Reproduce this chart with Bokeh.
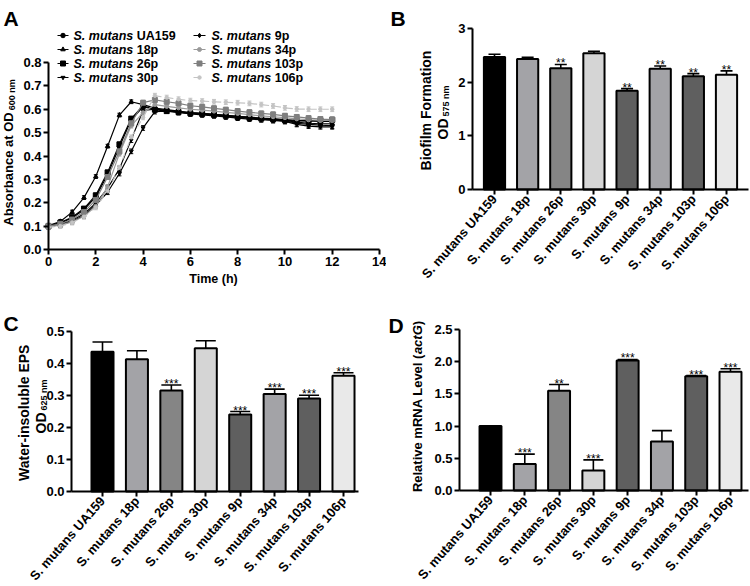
import math
from bokeh.plotting import figure
from bokeh.layouts import column, row
from bokeh.models import (ColumnDataSource, Whisker, TeeHead, Label, FixedTicker,
                          NumeralTickFormatter, Range1d)
from bokeh.core.properties import value
from bokeh.embed import file_html
from bokeh.resources import INLINE

FONT = "Liberation Sans"

# ---------------- data ----------------
strains = ["S. mutans UA159", "S. mutans 18p", "S. mutans 26p", "S. mutans 30p",
           "S. mutans 9p", "S. mutans 34p", "S. mutans 103p", "S. mutans 106p"]
bar_colors = ["#000000", "#a3a3a7", "#858585", "#d5d5d5",
              "#5f5f5f", "#a3a3a7", "#5f5f5f", "#e9e9e9"]

# Panel A: growth curves
time_h = [0, 0.5, 1, 1.5, 2, 2.5, 3, 3.5, 4, 4.5, 5, 5.5, 6, 6.5, 7, 7.5, 8,
          8.5, 9, 9.5, 10, 10.5, 11, 11.5, 12]
od_ua159 = [0.100, 0.112, 0.135, 0.170, 0.225, 0.320, 0.440, 0.555, 0.610, 0.600, 0.595, 0.590, 0.585,
            0.582, 0.578, 0.574, 0.570, 0.566, 0.562, 0.560, 0.556, 0.552, 0.550, 0.548, 0.548]
od_18p = [0.102, 0.120, 0.160, 0.222, 0.312, 0.442, 0.575, 0.632, 0.620, 0.605, 0.598, 0.592, 0.586,
          0.582, 0.578, 0.574, 0.570, 0.565, 0.560, 0.556, 0.552, 0.545, 0.540, 0.538, 0.538]
od_26p = [0.100, 0.115, 0.138, 0.175, 0.232, 0.330, 0.450, 0.560, 0.615, 0.598, 0.592, 0.588, 0.583,
          0.580, 0.576, 0.572, 0.567, 0.563, 0.560, 0.557, 0.553, 0.550, 0.550, 0.552, 0.555]
od_30p = [0.098, 0.106, 0.120, 0.145, 0.190, 0.245, 0.325, 0.420, 0.520, 0.590, 0.592, 0.586, 0.580,
          0.576, 0.572, 0.567, 0.562, 0.558, 0.555, 0.552, 0.548, 0.535, 0.528, 0.525, 0.525]
od_9p = [0.100, 0.108, 0.125, 0.152, 0.198, 0.262, 0.345, 0.470, 0.595, 0.600, 0.594, 0.588, 0.582,
         0.579, 0.575, 0.571, 0.566, 0.562, 0.558, 0.554, 0.550, 0.540, 0.535, 0.532, 0.530]
od_34p = [0.098, 0.104, 0.118, 0.142, 0.185, 0.268, 0.410, 0.530, 0.585, 0.620, 0.612, 0.606, 0.600,
          0.596, 0.592, 0.587, 0.582, 0.577, 0.572, 0.568, 0.564, 0.559, 0.555, 0.552, 0.552]
od_103p = [0.100, 0.110, 0.128, 0.160, 0.212, 0.310, 0.420, 0.540, 0.628, 0.640, 0.632, 0.625, 0.615,
           0.610, 0.604, 0.598, 0.592, 0.587, 0.582, 0.578, 0.572, 0.567, 0.562, 0.558, 0.556]
od_106p = [0.095, 0.100, 0.115, 0.140, 0.180, 0.250, 0.350, 0.480, 0.565, 0.658, 0.650, 0.643, 0.637,
           0.635, 0.632, 0.630, 0.628, 0.625, 0.620, 0.614, 0.606, 0.601, 0.600, 0.600, 0.600]
od_sd = [0.010, 0.008, 0.008, 0.010, 0.012, 0.010, 0.010, 0.010]
a_xticks = [0, 2, 4, 6, 8, 10, 12, 14]
a_yticks = [0.0, 0.1, 0.2, 0.3, 0.4, 0.5, 0.6, 0.7, 0.8]

# Panel B: biofilm formation
biofilm = [2.47, 2.43, 2.26, 2.54, 1.84, 2.25, 2.11, 2.14]
biofilm_sd = [0.05, 0.035, 0.07, 0.035, 0.04, 0.05, 0.05, 0.07]
biofilm_sig = ["", "", "**", "", "**", "**", "**", "**"]
b_yticks = [0, 1, 2, 3]

# Panel C: water-insoluble EPS
eps = [0.437, 0.413, 0.316, 0.448, 0.241, 0.305, 0.291, 0.362]
eps_sd = [0.030, 0.027, 0.017, 0.023, 0.009, 0.015, 0.010, 0.009]
eps_sig = ["", "", "***", "", "***", "***", "***", "***"]
c_yticks = [0.0, 0.1, 0.2, 0.3, 0.4, 0.5]

# Panel D: relative mRNA level (actG)
mrna = [1.00, 0.41, 1.55, 0.31, 2.02, 0.76, 1.775, 1.845]
mrna_sd = [0.0, 0.155, 0.095, 0.165, 0.015, 0.17, 0.01, 0.045]
mrna_sig = ["", "***", "**", "***", "***", "", "***", "***"]
d_yticks = [0.0, 0.5, 1.0, 1.5, 2.0, 2.5]

# ---------------- helpers ----------------
ADV = {' ': 278, '(': 333, ')': 333, '-': 333, '.': 278, 'A': 722, 'B': 722, 'C': 722,
       'D': 722, 'E': 667, 'F': 611, 'G': 778, 'L': 611, 'N': 722, 'O': 778, 'P': 667,
       'R': 722, 'S': 667, 'U': 722, 'W': 944, 'a': 556, 'b': 611, 'c': 556, 'e': 556,
       'f': 333, 'i': 278, 'l': 278, 'm': 889, 'n': 611, 'o': 611, 'r': 389, 's': 556,
       't': 333, 'u': 611, 'v': 556, 'p': 611}


def tw(s, size):
    return sum(ADV.get(c, 556) for c in s) * size / 1000.0


class Panel:
    """figure whose frame fills the canvas; ranges chosen so data land on given pixels"""

    def __init__(self, w, h, xd0, xp0, xd1, xp1, yd0, yp0, yd1, yp1):
        self.w, self.h = w, h
        self.sx = (xd1 - xd0) / (xp1 - xp0)
        self.x0 = xd0 - xp0 * self.sx
        self.sy = (yd1 - yd0) / ((h - yp1) - (h - yp0))
        self.y0 = yd0 - (h - yp0) * self.sy
        p = figure(width=w, height=h, output_backend="svg", toolbar_location=None,
                   x_range=Range1d(self.x0, self.x0 + w * self.sx),
                   y_range=Range1d(self.y0, self.y0 + h * self.sy),
                   min_border=0, min_border_left=0, min_border_right=0,
                   min_border_top=0, min_border_bottom=0)
        p.title.visible = False
        p.outline_line_color = None
        p.grid.visible = False
        p.background_fill_color = "white"
        p.border_fill_color = "white"
        self.p = p

    def xd(self, px):
        return self.x0 + px * self.sx

    def yd(self, py):
        return self.y0 + (self.h - py) * self.sy

    def label(self, text, x, y, size, style="bold", angle=0.0, align="left",
              baseline="middle"):
        self.p.add_layout(Label(x=x, y=self.h - y, x_units="screen", y_units="screen",
                                text=text, angle=angle, text_font=FONT,
                                text_font_style=style, text_font_size=f"{size}px",
                                text_align=align, text_baseline=baseline,
                                text_color="black"))

    def vlabel(self, parts, x, yc, gap=2):
        total = sum(tw(t, s) for t, s, st, dx in parts) + gap * (len(parts) - 1)
        y = yc + total / 2
        for t, s, st, dx in parts:
            self.label(t, x + dx, y, s, style=st, angle=math.pi / 2)
            y -= tw(t, s) + gap

    def axes(self, yaxis_px, xaxis_end_px, ymax, tick_size="13px"):
        p = self.p
        p.yaxis.fixed_location = self.xd(yaxis_px)
        p.xaxis.fixed_location = 0
        p.yaxis.bounds = (0, ymax)
        p.xaxis.bounds = (self.xd(yaxis_px), self.xd(xaxis_end_px))
        for ax in p.axis:
            ax.axis_line_width = 2
            ax.axis_line_color = "black"
            ax.major_tick_line_width = 2
            ax.major_tick_line_color = "black"
            ax.major_tick_out = 5
            ax.major_tick_in = 0
            ax.minor_tick_line_color = None
            ax.major_label_text_font = FONT
            ax.major_label_text_font_style = "bold"
            ax.major_label_text_font_size = tick_size
            ax.major_label_text_color = "black"
            ax.major_label_standoff = 2


# ---------------- Panel A ----------------
WL, WR, HT, HB = 386, 364, 293, 293
A = Panel(WL, HT, 0, 48, 14, 379, 0, 249, 0.8, 62)
pA = A.p
A.axes(48, 379, 0.8)
pA.xaxis.ticker = FixedTicker(ticks=a_xticks)
pA.yaxis.ticker = FixedTicker(ticks=a_yticks)
pA.yaxis.formatter = NumeralTickFormatter(format="0.0")

series = [
    ("UA159", od_ua159, "circle", "#000000", "solid", 4.5),
    ("18p", od_18p, "triangle", "#000000", "solid", 4.5),
    ("26p", od_26p, "square", "#000000", "solid", 5),
    ("30p", od_30p, "inverted_triangle", "#000000", "solid", 4),
    ("9p", od_9p, "diamond", "#000000", "solid", 4.5),
    ("34p", od_34p, "circle", "#9a9a9a", "solid", 4),
    ("103p", od_103p, "square", "#7f7f7f", "solid", 5),
    ("106p", od_106p, "circle", "#c4c4c4", "dashed", 3.5),
]
for i, (name, ys, mk, col, dash, sz) in enumerate(series):
    src = ColumnDataSource(dict(t=time_h, v=ys, up=[y + od_sd[i] for y in ys],
                                lo=[y - od_sd[i] for y in ys]))
    pA.add_layout(Whisker(source=src, base="t", upper="up", lower="lo",
                          line_color=col, line_width=1,
                          upper_head=TeeHead(size=4, line_color=col, line_width=1),
                          lower_head=TeeHead(size=4, line_color=col, line_width=1)))
    pA.line("t", "v", source=src, line_color=col, line_width=1.2, line_dash=dash)
    pA.scatter("t", "v", source=src, marker=mk, size=sz, fill_color=col, line_color=col)

# legend (two columns, 4 rows)
leg_rows_px = [35, 49, 63, 77]
leg_cols_px = [(57, 68, 73), (193, 205, 211)]
for i, (name, ys, mk, col, dash, sz) in enumerate(series):
    c = leg_cols_px[i // 4]
    yv = A.yd(leg_rows_px[i % 4])
    x0, x1, xt = A.xd(c[0]), A.xd(c[1]), A.xd(c[2])
    pA.line([x0, x1], [yv, yv], line_color=col, line_width=1.2, line_dash=dash)
    pA.scatter([(x0 + x1) / 2], [yv], marker=mk, size=sz, fill_color=col, line_color=col)
    pA.text([xt], [yv], text=["S. mutans"], text_font=value(FONT),
            text_font_style="bold italic", text_font_size=value("12.5px"),
            text_baseline="middle", text_align="left", text_color="black")
    pA.text([xt], [yv], text=[name], text_font=value(FONT),
            text_font_style="bold", text_font_size=value("12.5px"),
            text_baseline="middle", text_align="left", text_color="black",
            x_offset=tw("S. mutans ", 12.5))

A.label("A", 3, 18, 21, baseline="alphabetic")
A.label("Time (h)", 213, 278, 12.5, align="center")
A.vlabel([("Absorbance at OD", 13, "bold", 0), ("600 nm", 9, "bold", 3)], 8, 152)


# ---------------- bar panels ----------------
def bar_panel(P, axis_px, end_px, ymax, yticks, fmt, vals, sds, sig, cap):
    p = P.p
    P.axes(axis_px, end_px, ymax)
    xs = list(range(len(strains)))
    p.xaxis.ticker = FixedTicker(ticks=xs)
    p.xaxis.major_label_overrides = {i: s for i, s in enumerate(strains)}
    p.xaxis.major_label_orientation = 0.85
    p.xaxis.major_label_text_font_size = "13px"
    p.yaxis.ticker = FixedTicker(ticks=yticks)
    p.yaxis.formatter = NumeralTickFormatter(format=fmt)
    src = ColumnDataSource(dict(x=xs, v=vals, c=bar_colors,
                                up=[v + s for v, s in zip(vals, sds)],
                                lo=[v - s for v, s in zip(vals, sds)], sig=sig))
    p.vbar(x="x", top="v", bottom=0, width=0.64, source=src, fill_color="c",
           line_color="black", line_width=2)
    p.add_layout(Whisker(source=src, base="x", upper="up", lower="lo",
                         line_color="black", line_width=1.6,
                         upper_head=TeeHead(size=cap, line_color="black", line_width=1.6),
                         lower_head=TeeHead(size=cap, line_color="black", line_width=1.6)))
    p.text(x="x", y="up", text="sig", source=src, text_font=value(FONT),
           text_font_size=value("12px"), text_align="center",
           text_baseline="alphabetic", y_offset=-1, text_color="black")
    return p


# Panel B  (page origin 386, 0)
B = Panel(WR, HT, 0, 494 - 386, 7, 726 - 386, 0, 189, 3, 28)
pB = bar_panel(B, 472 - 386, 362, 3, b_yticks, "0", biofilm, biofilm_sd, biofilm_sig, 12)
B.label("B", 4, 18, 21, baseline="alphabetic")
B.vlabel([("Biofilm Formation", 14, "bold", 0)], 39, 110)
B.vlabel([("OD", 14, "bold", 0), ("575 nm", 9, "bold", 3)], 56, 112)

# Panel C  (page origin 0, 293)
C = Panel(WL, HB, 0, 102, 7, 343, 0, 491 - 293, 0.5, 331 - 293)
pC = bar_panel(C, 71, 358, 0.5, c_yticks, "0.0", eps, eps_sd, eps_sig, 20)
C.label("C", 3, 30, 21, baseline="alphabetic")
C.vlabel([("Water-insoluble EPS", 14, "bold", 0)], 23, 119)
C.vlabel([("OD", 14, "bold", 0), ("625 nm", 9, "bold", 3)], 40, 113)

# Panel D  (page origin 386, 293)
D = Panel(WR, HB, 0, 490 - 386, 7, 730 - 386, 0, 490 - 293, 2.5, 329 - 293)
pD = bar_panel(D, 459 - 386, 362, 2.5, d_yticks, "0.0", mrna, mrna_sd, mrna_sig, 20)
D.label("D", 2, 32, 21, baseline="alphabetic")
D.vlabel([("Relative mRNA Level (", 13, "bold", 0), ("actG", 13, "bold italic", 0),
          (")", 13, "bold", 0)], 31, 113, gap=0)

layout = column(row(pA, pB), row(pC, pD))
open("out.html", "w").write(file_html(layout, INLINE))
